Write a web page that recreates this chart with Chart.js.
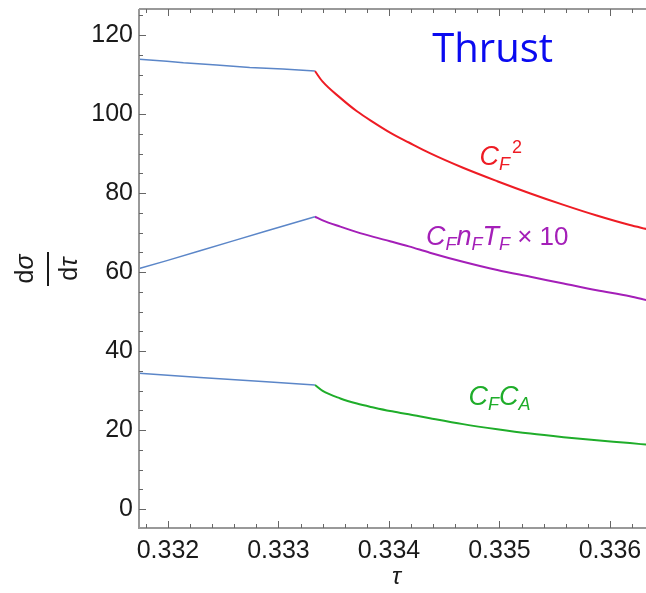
<!DOCTYPE html>
<html>
<head>
<meta charset="utf-8">
<script src="https://cdn.jsdelivr.net/npm/chart.js@4"></script>
<style>
  body { margin: 0; background: #fff; }
  #wrap { width: 646px; height: 593px; }
</style>
</head>
<body>
<div id="wrap"><canvas id="chart" width="646" height="593"></canvas></div>
<script>
// values
const tauLeftTop = [0.33174, 0.33199, 0.33214, 0.33244, 0.33274, 0.33304, 0.33333];
const cf2Left = [113.9, 113.4, 113.0, 112.4, 111.8, 111.4, 110.9];

const tauLeftMid = [0.33174, 0.33199, 0.33229, 0.33259, 0.33289, 0.33333];
const nfLeft = [60.9, 62.9, 65.4, 67.9, 70.4, 74.0];

const tauLeftLow = [0.33174, 0.33229, 0.33289, 0.33333];
const caLeft = [34.4, 33.3, 32.2, 31.4];

const tauRight = [0.33333, 0.33340, 0.33356, 0.33371, 0.33386, 0.33401, 0.33418, 0.33437,
                  0.33467, 0.33498, 0.33528, 0.33558, 0.33588, 0.33618, 0.33633];
const cf2Right = [110.9, 108.2, 104.1, 100.7, 97.9, 95.3, 92.8, 90.1, 86.4, 83.0, 79.9, 77.0, 74.3, 71.9, 70.9];
const nfRight = [74.0, 73.1, 71.5, 70.1, 68.9, 67.8, 66.5, 64.9, 62.6, 60.5, 58.8, 57.1, 55.4, 53.9, 52.9];
const caRight = [31.4, 29.9, 28.0, 26.7, 25.7, 24.8, 24.0, 23.0, 21.5, 20.2, 19.1, 18.2, 17.4, 16.7, 16.3];

const xTicks = [0.332, 0.333, 0.334, 0.335, 0.336];
const yTicks = [0, 20, 40, 60, 80, 100, 120];

const blue = '#5b86c8';
const red = '#ee1c24';
const purple = '#a41fb8';
const green = '#1fad2a';

function pts(xs, ys) {
    return xs.map((x, i) => ({ x: x, y: ys[i] }));
}

function line(data, color, width, smooth) {
    return {
        data: data,
        borderColor: color,
        borderWidth: width,
        pointRadius: 0,
        showLine: true,
        fill: false,
        tension: 0,
        cubicInterpolationMode: smooth ? 'monotone' : 'default'
    };
}

// labels placed at data positions
const notes = [
    { x: 0.334938, y: 116.7, color: '#0a0af0', font: '40px "Open Sans"', align: 'center', parts: [['Thrust', '']] },
    { x: 0.334820, y: 87.1, color: red, parts: [['C', 'i'], ['F', 'isub'], ['2', 'sup']] },
    { x: 0.334335, y: 66.9, color: purple, parts: [['C', 'i'], ['F', 'isub'], ['n', 'i'], ['F', 'isub'], ['T', 'i'], ['F', 'isub'], [' \u00d7 10', '']] },
    { x: 0.334720, y: 26.3, color: green, parts: [['C', 'i'], ['F', 'isub'], ['C', 'i'], ['A', 'isub']] }
];

// draws "d" upright followed by an italic greek letter, centred on (0, y)
function diffText(ctx, letter, y) {
    const up = '25px "Liberation Sans"';
    const it = 'italic 25px "Liberation Sans"';
    ctx.font = up;
    const w1 = ctx.measureText('d').width;
    ctx.font = it;
    const w2 = ctx.measureText(letter).width;
    const x0 = -(w1 + w2) / 2;
    ctx.textAlign = 'left';
    ctx.font = up;
    ctx.fillText('d', x0, y);
    ctx.font = it;
    ctx.fillText(letter, x0 + w1, y);
}

const framePlugin = {
    id: 'frame',
    afterDraw(chart) {
        const ctx = chart.ctx;
        const a = chart.chartArea;
        const xs = chart.scales.x;
        const ys = chart.scales.y;
        ctx.save();
        // frame lines
        ctx.strokeStyle = '#999';
        ctx.lineWidth = 2;
        ctx.beginPath();
        ctx.moveTo(a.left, a.top);
        ctx.lineTo(a.right, a.top);
        ctx.moveTo(a.left, a.top);
        ctx.lineTo(a.left, a.bottom);
        ctx.lineTo(a.right, a.bottom);
        ctx.stroke();

        // inward ticks
        ctx.strokeStyle = '#666';
        ctx.lineWidth = 1;
        ctx.beginPath();
        for (let k = 0; k <= 22; k++) {
            const v = 0.3318 + k * 0.0002;
            const px = Math.round(xs.getPixelForValue(v)) + 0.5;
            if (px < a.left || px > a.right) continue;
            const len = (k % 5 === 1) ? 7 : 4;
            ctx.moveTo(px, a.bottom);
            ctx.lineTo(px, a.bottom - len);
            ctx.moveTo(px, a.top);
            ctx.lineTo(px, a.top + len);
        }
        for (let v = 0; v <= 125; v += 5) {
            const py = Math.round(ys.getPixelForValue(v)) + 0.5;
            const len = (v % 20 === 0) ? 7 : 4;
            ctx.moveTo(a.left, py);
            ctx.lineTo(a.left + len, py);
        }
        ctx.stroke();

        // curve labels
        notes.forEach(n => {
            const px = xs.getPixelForValue(n.x);
            const py = ys.getPixelForValue(n.y);
            ctx.fillStyle = n.color;
            ctx.textBaseline = 'alphabetic';
            if (n.font) {
                ctx.font = n.font;
                ctx.textAlign = n.align;
                ctx.fillText(n.parts[0][0], px, py + 14);
                return;
            }
            ctx.textAlign = 'left';
            let cx = px;
            n.parts.forEach(p => {
                const [t, s] = p;
                let font = '26px "Liberation Sans"';
                let dy = 0;
                if (s === 'i') font = 'italic 27px "Liberation Sans"';
                if (s === 'isub') { font = 'italic 18px "Liberation Sans"'; dy = 5; }
                if (s === 'sup') { font = '18px "Liberation Sans"'; dy = -12; cx += 2; }
                ctx.font = font;
                ctx.fillText(t, cx, py + dy);
                cx += ctx.measureText(t).width;
            });
        });

        // axis titles
        ctx.fillStyle = '#1a1a1a';
        ctx.textAlign = 'center';
        ctx.textBaseline = 'middle';
        ctx.font = 'italic 24px "Liberation Sans"';
        ctx.fillText('\u03c4', (a.left + a.right) / 2 + 4, 577);

        ctx.translate(48, 269);
        ctx.rotate(-Math.PI / 2);
        diffText(ctx, '\u03c3', -22);
        diffText(ctx, '\u03c4', 22);
        ctx.fillRect(-17, -1, 34, 2);
        ctx.restore();
    }
};

new Chart(document.getElementById('chart').getContext('2d'), {
    type: 'scatter',
    data: {
        datasets: [
            line(pts(tauLeftTop, cf2Left), blue, 1.5, false),
            line(pts(tauLeftMid, nfLeft), blue, 1.5, false),
            line(pts(tauLeftLow, caLeft), blue, 1.5, false),
            line(pts(tauRight, cf2Right), red, 2, true),
            line(pts(tauRight, nfRight), purple, 2, true),
            line(pts(tauRight, caRight), green, 2, true)
        ]
    },
    options: {
        responsive: false,
        animation: false,
        layout: { padding: { top: 9, right: 0, left: 0, bottom: 0 } },
        plugins: {
            legend: { display: false },
            tooltip: { enabled: false }
        },
        scales: {
            x: {
                type: 'linear',
                min: 0.331738,
                max: 0.336326,
                afterFit: s => { s.height = 65; s.paddingLeft = 0; s.paddingRight = 0; },
                afterBuildTicks: s => { s.ticks = xTicks.map(v => ({ value: v })); },
                grid: { display: false, drawTicks: false },
                border: { display: false },
                ticks: {
                    padding: 8,
                    color: '#1a1a1a',
                    font: { family: 'Liberation Sans', size: 25 },
                    maxRotation: 0,
                    callback: v => v.toFixed(3)
                }
            },
            y: {
                min: -4.8,
                max: 126.6,
                afterFit: s => { s.width = 139; s.paddingTop = 0; s.paddingBottom = 0; },
                afterBuildTicks: s => { s.ticks = yTicks.map(v => ({ value: v })); },
                grid: { display: false, drawTicks: false },
                border: { display: false },
                ticks: {
                    padding: 6,
                    color: '#1a1a1a',
                    font: { family: 'Liberation Sans', size: 25 },
                    callback: v => String(v)
                }
            }
        }
    },
    plugins: [framePlugin]
});
</script>
</body>
</html>
